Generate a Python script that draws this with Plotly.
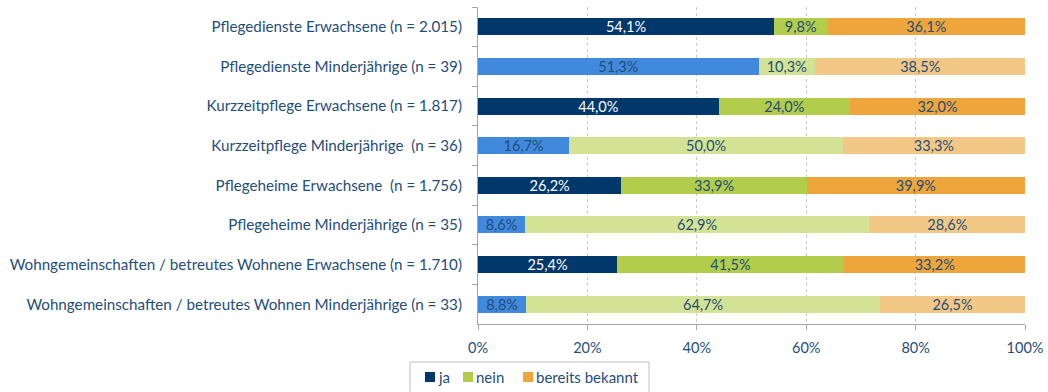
import plotly.graph_objects as go

categories = [
    "Pflegedienste Erwachsene (n = 2.015)",
    "Pflegedienste Minderjährige (n = 39)",
    "Kurzzeitpflege Erwachsene (n = 1.817)",
    "Kurzzeitpflege Minderjährige \u00a0(n = 36)",
    "Pflegeheime Erwachsene \u00a0(n = 1.756)",
    "Pflegeheime Minderjährige (n = 35)",
    "Wohngemeinschaften / betreutes Wohnene Erwachsene (n = 1.710)",
    "Wohngemeinschaften / betreutes Wohnen Minderjährige (n = 33)",
]
ja = [54.1, 51.3, 44.0, 16.7, 26.2, 8.6, 25.4, 8.8]
nein = [9.8, 10.3, 24.0, 50.0, 33.9, 62.9, 41.5, 64.7]
bekannt = [36.1, 38.5, 32.0, 33.3, 39.9, 28.6, 33.2, 26.5]
x_ticks = [0, 20, 40, 60, 80, 100]
x_tick_labels = ["0%", "20%", "40%", "60%", "80%", "100%"]

# adults rows use strong colours, minors rows the lighter variants
is_adult = ["Erwachsene" in c for c in categories]
series = [
    ("ja", ja, "#00386B", "#4189DD"),
    ("nein", nein, "#B2CC4B", "#D3E294"),
    ("bereits bekannt", bekannt, "#EDA53C", "#F3C886"),
]

TEXT = "#1F4E79"
FONT = "Lato"
FS_LABEL = 15.2
FS_BAR = 14.5
FS_TICK = 14.5
FS_LEG = 15

fig = go.Figure()
for name, vals, strong, light in series:
    colors = [strong if a else light for a in is_adult]
    if name == "ja":
        tcolors = ["white" if a else TEXT for a in is_adult]
    else:
        tcolors = [TEXT] * len(vals)
    fig.add_trace(go.Bar(
        name=name,
        y=categories,
        x=vals,
        orientation="h",
        marker=dict(color=colors, line=dict(width=0)),
        texttemplate="%{x:.1f}%",
        textposition="inside",
        insidetextanchor="middle",
        textangle=0,
        textfont=dict(color=tcolors, size=FS_BAR, family=FONT),
        constraintext="none",
        showlegend=False,
    ))

# compact boxed legend below the axis (paper coordinates)
PX0, PW, PY0, PH = 478, 547, 324, 317
def px(x):
    return (x - PX0) / PW
def py(y):
    return (PY0 - y) / PH

shapes = [dict(type="rect", xref="paper", yref="paper",
               x0=px(410), x1=px(649), y0=py(393), y1=py(362),
               line=dict(color="#BFBFBF", width=1), fillcolor="white")]
annotations = []
legend_items = [("ja", "#00386B", 425), ("nein", "#B2CC4B", 463), ("bereits bekannt", "#EDA53C", 523)]
for label, col, sx in legend_items:
    shapes.append(dict(type="rect", xref="paper", yref="paper",
                       x0=px(sx), x1=px(sx + 10), y0=py(382), y1=py(372),
                       line=dict(width=0), fillcolor=col))
    annotations.append(dict(text=label, xref="paper", yref="paper",
                            x=px(sx + 11), y=py(377), xanchor="left", yanchor="middle",
                            showarrow=False, font=dict(size=FS_LEG, color=TEXT, family=FONT)))

fig.update_layout(
    barmode="stack",
    bargap=0.57,
    separators=",.",
    width=1048,
    height=392,
    margin=dict(l=478, r=23, t=7, b=68, autoexpand=False),
    paper_bgcolor="white",
    plot_bgcolor="white",
    font=dict(family=FONT, size=FS_LABEL, color=TEXT),
    showlegend=False,
    shapes=shapes,
    annotations=annotations,
    xaxis=dict(
        range=[0, 100],
        tickmode="array",
        tickvals=x_ticks,
        ticktext=x_tick_labels,
        showgrid=True,
        gridcolor="#C8C8D0",
        griddash="dot",
        gridwidth=1,
        showline=True,
        linecolor="#A6A6A6",
        ticks="outside",
        ticklen=5,
        tickcolor="#A6A6A6",
        zeroline=False,
        tickfont=dict(size=FS_TICK, color=TEXT),
        ticklabelstandoff=6,
    ),
    yaxis=dict(
        autorange="reversed",
        showline=True,
        linecolor="#A6A6A6",
        ticks="outside",
        ticklen=5,
        tickcolor="#A6A6A6",
        tickson="boundaries",
        showgrid=False,
        tickfont=dict(size=FS_LABEL, color=TEXT),
        ticklabelstandoff=12,
    ),
)

fig.write_html("out.html")
